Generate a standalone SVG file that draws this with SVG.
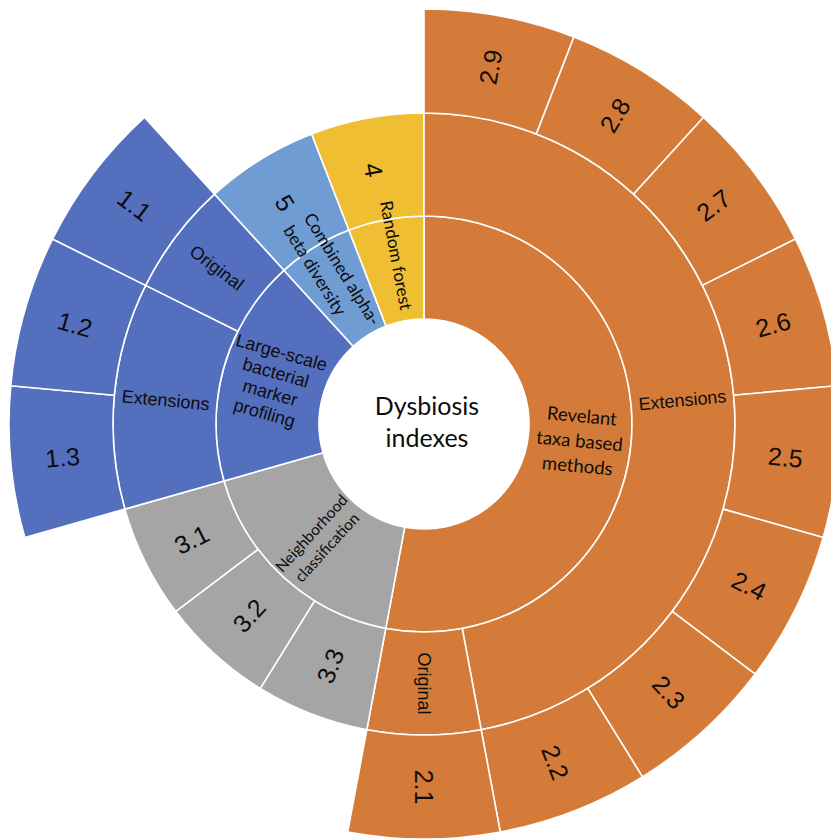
<svg xmlns="http://www.w3.org/2000/svg" width="831" height="840" viewBox="0 0 831 840">
<style>
.seg{stroke:#FFFFFF;stroke-width:1.6;stroke-linejoin:round}
.or{fill:#D47B3A}
.ye{fill:#F0BE32}
.db{fill:#556FBF}
.lb{fill:#6F9CD3}
.gr{fill:#A5A5A5}
text{fill:#0D0D0D}
.num{font-family:"Liberation Sans",Arial,sans-serif;font-size:25px;text-anchor:middle}
.lab{font-family:"Liberation Sans",Arial,sans-serif;font-size:18px;text-anchor:middle}
.cal{font-family:Lato,"Noto Sans",sans-serif;text-anchor:middle}
</style>
<rect width="831" height="840" fill="#FFFFFF"/>
<g id="connectors"></g>
<g id="ring1">
<g id="n-revelant"><path class="seg or" d="M424,216 A208,208 0 1 1 385.78,628.46 L404.71,527.21 A105,105 0 1 0 424,319 Z"/>
<g class="cal" font-size="18.5" transform="translate(579.83,438.44) rotate(5.29)"><text x="0" y="-22.5" dy="0.35em">Revelant</text><text x="0" y="2.5" dy="0.35em">taxa based</text><text x="0" y="27.5" dy="0.35em">methods</text></g></g>
<g id="n-neighborhood"><path class="seg gr" d="M385.78,628.46 A208,208 0 0 1 223.94,480.92 L323.01,452.73 A105,105 0 0 0 404.71,527.21 Z"/>
<g class="cal" font-size="15.5" transform="translate(318.57,539.66) rotate(-47.65)"><text x="0" y="-9.5" dy="0.35em">Neighborhood</text><text x="0" y="11.5" dy="0.35em">classification</text></g></g>
<g id="n-largescale"><path class="seg db" d="M223.94,480.92 A208,208 0 0 1 283.87,270.29 L353.26,346.40 A105,105 0 0 0 323.01,452.73 Z"/>
<g class="lab" font-size="17.5" transform="translate(273.47,381.17) rotate(15.88)"><text x="0" y="-30" dy="0.35em">Large-scale</text><text x="0" y="-9" dy="0.35em">bacterial</text><text x="0" y="12" dy="0.35em">marker</text><text x="0" y="33" dy="0.35em">profiling</text></g></g>
<g id="n-5"><path class="seg lb" d="M283.87,270.29 A208,208 0 0 1 348.86,230.05 L386.07,326.09 A105,105 0 0 0 353.26,346.40 Z"/>
<path class="seg lb" d="M214.48,194.17 A311,311 0 0 1 311.65,134.00 L348.86,230.05 A208,208 0 0 0 283.87,270.29 Z"/>
<g transform="translate(314.50,247.15) rotate(58.24)"><text class="num" x="-53" y="2" dy="0.35em">5</text><text class="cal" font-size="17.2" style="text-anchor:start" x="-31" y="-12" dy="0.35em">Combined alpha-</text><text class="cal" font-size="17.2" style="text-anchor:start" x="-31" y="12" dy="0.35em">beta diversity</text></g></g>
<g id="n-4"><path class="seg ye" d="M348.86,230.05 A208,208 0 0 1 424,216 L424,319 A105,105 0 0 0 386.07,326.09 Z"/>
<path class="seg ye" d="M311.65,134.00 A311,311 0 0 1 424,113 L424,216 A208,208 0 0 0 348.86,230.05 Z"/>
<g transform="translate(385.78,219.54) rotate(79.41)"><text class="num" x="-51" y="3" dy="0.35em">4</text><text class="cal" font-size="17.2" x="37" y="-3.5" dy="0.35em">Random forest</text></g></g>
</g>
<g id="ring2">
<g id="n-ext2"><path class="seg or" d="M424,113 A311,311 0 0 1 481.15,729.70 L462.22,628.46 A208,208 0 0 0 424,216 Z"/>
<text class="lab" transform="translate(682.39,400.06) rotate(-5.29)" dy="0.35em">Extensions</text></g>
<g id="n-orig2"><path class="seg or" d="M481.15,729.70 A311,311 0 0 1 366.85,729.70 L385.78,628.46 A208,208 0 0 0 462.22,628.46 Z"/>
<text class="lab" transform="translate(424,683.5) rotate(90)" dy="0.35em">Original</text></g>
<g id="n-3-3"><path class="seg gr" d="M366.85,729.70 A311,311 0 0 1 260.28,688.42 L314.50,600.85 A208,208 0 0 0 385.78,628.46 Z"/>
<text class="num" transform="translate(330.26,665.98) rotate(-68.82)" dy="0.35em">3.3</text></g>
<g id="n-3-2"><path class="seg gr" d="M260.28,688.42 A311,311 0 0 1 175.82,611.42 L258.01,549.35 A208,208 0 0 0 314.50,600.85 Z"/>
<text class="num" transform="translate(249.17,615.77) rotate(-47.65)" dy="0.35em">3.2</text></g>
<g id="n-3-1"><path class="seg gr" d="M175.82,611.42 A311,311 0 0 1 124.87,509.11 L223.94,480.92 A208,208 0 0 0 258.01,549.35 Z"/>
<text class="num" transform="translate(191.71,539.67) rotate(-26.47)" dy="0.35em">3.1</text></g>
<g id="n-ext1"><path class="seg db" d="M124.87,509.11 A311,311 0 0 1 145.61,285.38 L237.81,331.29 A208,208 0 0 0 223.94,480.92 Z"/>
<text class="lab" transform="translate(165.61,400.06) rotate(5.29)" dy="0.35em">Extensions</text></g>
<g id="n-orig1"><path class="seg db" d="M145.61,285.38 A311,311 0 0 1 214.48,194.17 L283.87,270.29 A208,208 0 0 0 237.81,331.29 Z"/>
<text class="lab" transform="translate(216.91,267.62) rotate(37.06)" dy="0.35em">Original</text></g>
</g>
<g id="ring3">
<g id="n-2-9"><path class="seg or" d="M424,9 A415,415 0 0 1 573.91,37.02 L536.35,134.00 A311,311 0 0 0 424,113 Z"/><text class="num" transform="translate(490.70,67.18) rotate(-79.41)" dy="0.35em">2.9</text></g>
<g id="n-2-8"><path class="seg or" d="M573.91,37.02 A415,415 0 0 1 703.59,117.31 L633.52,194.17 A311,311 0 0 0 536.35,134.00 Z"/><text class="num" transform="translate(615.09,115.37) rotate(-58.24)" dy="0.35em">2.8</text></g>
<g id="n-2-7"><path class="seg or" d="M703.59,117.31 A415,415 0 0 1 795.49,239.02 L702.39,285.38 A311,311 0 0 0 633.52,194.17 Z"/><text class="num" transform="translate(713.68,205.25) rotate(-37.06)" dy="0.35em">2.7</text></g>
<g id="n-2-6"><path class="seg or" d="M795.49,239.02 A415,415 0 0 1 837.23,385.71 L733.67,395.30 A311,311 0 0 0 702.39,285.38 Z"/><text class="num" transform="translate(773.14,324.66) rotate(-15.88)" dy="0.35em">2.6</text></g>
<g id="n-2-5"><path class="seg or" d="M837.23,385.71 A415,415 0 0 1 823.16,537.57 L723.13,509.11 A311,311 0 0 0 733.67,395.30 Z"/><text class="num" transform="translate(785.45,457.49) rotate(5.29)" dy="0.35em">2.5</text></g>
<g id="n-2-4"><path class="seg or" d="M823.16,537.57 A415,415 0 0 1 755.18,674.09 L672.18,611.42 A311,311 0 0 0 723.13,509.11 Z"/><text class="num" transform="translate(748.94,585.80) rotate(26.47)" dy="0.35em">2.4</text></g>
<g id="n-2-3"><path class="seg or" d="M755.18,674.09 A415,415 0 0 1 642.47,776.84 L587.72,688.42 A311,311 0 0 0 672.18,611.42 Z"/><text class="num" transform="translate(668.55,692.26) rotate(47.65)" dy="0.35em">2.3</text></g>
<g id="n-2-2"><path class="seg or" d="M642.47,776.84 A415,415 0 0 1 500.26,831.93 L481.15,729.70 A311,311 0 0 0 587.72,688.42 Z"/><text class="num" transform="translate(555.13,762.49) rotate(68.82)" dy="0.35em">2.2</text></g>
<g id="n-2-1"><path class="seg or" d="M500.26,831.93 A415,415 0 0 1 347.74,831.93 L366.85,729.70 A311,311 0 0 0 481.15,729.70 Z"/><text class="num" transform="translate(424,787) rotate(90)" dy="0.35em">2.1</text></g>
<g id="n-1-3"><path class="seg db" d="M24.84,537.57 A415,415 0 0 1 10.77,385.71 L114.33,395.30 A311,311 0 0 0 124.87,509.11 Z"/><text class="num" transform="translate(62.55,457.49) rotate(-5.29)" dy="0.35em">1.3</text></g>
<g id="n-1-2"><path class="seg db" d="M10.77,385.71 A415,415 0 0 1 52.51,239.02 L145.61,285.38 A311,311 0 0 0 114.33,395.30 Z"/><text class="num" transform="translate(74.86,324.66) rotate(15.88)" dy="0.35em">1.2</text></g>
<g id="n-1-1"><path class="seg db" d="M52.51,239.02 A415,415 0 0 1 144.41,117.31 L214.48,194.17 A311,311 0 0 0 145.61,285.38 Z"/><text class="num" transform="translate(134.32,205.25) rotate(37.06)" dy="0.35em">1.1</text></g>
</g>
<g id="n-center"><circle cx="424" cy="424" r="105" fill="#FFFFFF"/>
<text class="cal" font-size="25" x="427" y="415">Dysbiosis</text><text class="cal" font-size="25" x="427" y="447">indexes</text></g>
</svg>
